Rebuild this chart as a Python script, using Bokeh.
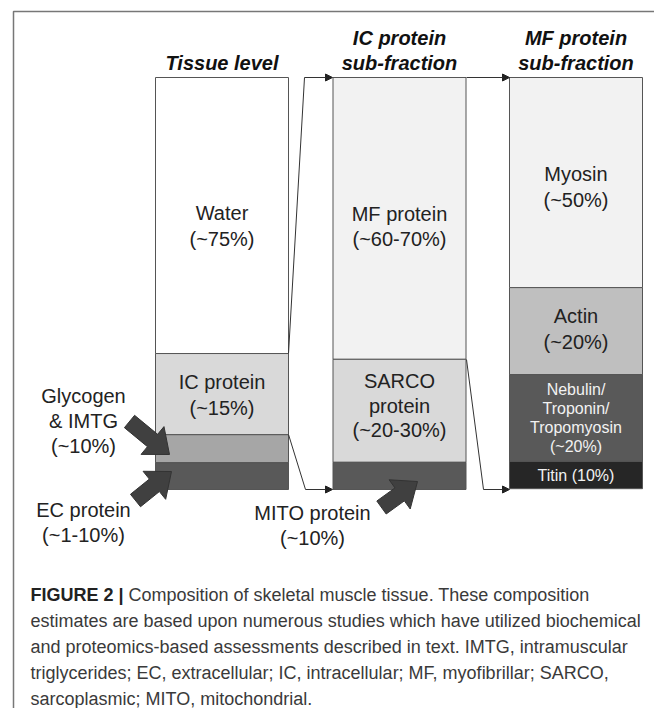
from bokeh.plotting import figure
from bokeh.models import Range1d, ColumnDataSource, Arrow, NormalHead
from bokeh.core.properties import value
from bokeh.embed import file_html
from bokeh.resources import INLINE

# ---------------- data ----------------
tissue_parts = ["Water", "IC protein", "Glycogen & IMTG", "EC protein"]
tissue_share = [67.0, 19.7, 6.8, 6.5]          # share of bar height
tissue_labels = ["Water\n(~75%)", "IC protein\n(~15%)", "Glycogen\n& IMTG\n(~10%)", "EC protein\n(~1-10%)"]
tissue_colors = ["#ffffff", "#d9d9d9", "#a6a6a6", "#595959"]

ic_parts = ["MF protein", "SARCO protein", "MITO protein"]
ic_share = [68.4, 25.0, 6.6]
ic_labels = ["MF protein\n(~60-70%)", "SARCO\nprotein\n(~20-30%)", "MITO protein\n(~10%)"]
ic_colors = ["#f2f2f2", "#d9d9d9", "#595959"]

mf_parts = ["Myosin", "Actin", "Nebulin/Troponin/Tropomyosin", "Titin"]
mf_share = [51.0, 21.1, 21.1, 6.6]
mf_labels = ["Myosin\n(~50%)", "Actin\n(~20%)", "Nebulin/\nTroponin/\nTropomyosin\n(~20%)", "Titin (10%)"]
mf_colors = ["#f2f2f2", "#bfbfbf", "#595959", "#262626"]

headers = ["Tissue level", "IC protein\nsub-fraction", "MF protein\nsub-fraction"]

caption_bold = "FIGURE 2 |"
caption_lines = [
    "Composition of skeletal muscle tissue. These composition",
    "estimates are based upon numerous studies which have utilized biochemical",
    "and proteomics-based assessments described in text. IMTG, intramuscular",
    "triglycerides; EC, extracellular; IC, intracellular; MF, myofibrillar; SARCO,",
    "sarcoplasmic; MITO, mitochondrial.",
]

# ---------------- layout ----------------
W, H = 654, 708
BAR_TOP, BAR_BOT = 77.0, 489.0           # pixel rows of bar top / bottom
UNIT = (BAR_BOT - BAR_TOP) / 100.0       # px per percent


def Y(py):
    return (BAR_BOT - py) / UNIT


BAR_X = [221.5, 399.0, 575.5]
BAR_W = 133
FONT = "Liberation Sans"
LABEL_SIZE = 20
LINE_GAP = 25.5
# small vertical nudges (px) of in-bar labels from segment middles
NUDGE = [[10.5, 1.0], [8.0, -5.0], [4.5, -2.0, 0.0, 0.0]]

p = figure(width=W, height=H, x_range=Range1d(0, W), y_range=Range1d(Y(H), Y(0)),
           output_backend="svg", toolbar_location=None, x_axis_type=None, y_axis_type=None,
           min_border=0, outline_line_color=None, background_fill_color="white",
           border_fill_color="white")
p.grid.visible = False

# frame lines (top and left)
p.line([13, 13, 680], [Y(730), Y(11), Y(11)], line_color="#777777", line_width=1.5)


def text_lines(xs, ys, labels, size, color="#222222", style="normal", gap=LINE_GAP, align="center"):
    tx, ty, tt = [], [], []
    for x, y, lab in zip(xs, ys, labels):
        lines = lab.split("\n")
        n = len(lines)
        for i, ln in enumerate(lines):
            tx.append(x)
            ty.append(y - ((i - (n - 1) / 2.0) * gap) / UNIT)
            tt.append(ln)
    p.text(x=tx, y=ty, text=tt, text_font=value(FONT), text_font_size=value(f"{size}px"),
           text_color=color, text_font_style=style, text_align=align, text_baseline="middle")


def stack(share):
    tops, bots = [], []
    cur = 100.0
    for s in share:
        tops.append(cur)
        cur -= s
        bots.append(cur)
    return tops, bots


bars = [(tissue_share, tissue_colors), (ic_share, ic_colors), (mf_share, mf_colors)]
mids = []
for k, (bx, (share, cols)) in enumerate(zip(BAR_X, bars)):
    tops, bots = stack(share)
    src = ColumnDataSource(dict(x=[bx] * len(share), top=tops, bottom=bots, color=cols))
    p.vbar(x="x", width=BAR_W, top="top", bottom="bottom", fill_color="color",
           line_color="#555555", line_width=1, source=src)
    m = [(t + b) / 2 for t, b in zip(tops, bots)]
    mids.append([v - d / UNIT for v, d in zip(m, NUDGE[k] + [0] * (len(m) - len(NUDGE[k])))])

# labels inside bars
text_lines([BAR_X[0]] * 2, mids[0][:2], tissue_labels[:2], LABEL_SIZE)
text_lines([BAR_X[1]] * 2, mids[1][:2], ic_labels[:2], LABEL_SIZE, gap=24.5)
text_lines([BAR_X[2]] * 2, mids[2][:2], mf_labels[:2], LABEL_SIZE)
text_lines([BAR_X[2]] * 2, mids[2][2:], mf_labels[2:], 16, color="#f2f2f2", gap=19.0)

# labels outside bars
text_lines([83], [Y(420)], [tissue_labels[2]], LABEL_SIZE, gap=25)
text_lines([83], [Y(522)], [tissue_labels[3]], LABEL_SIZE)
text_lines([312], [Y(525)], [ic_labels[2]], LABEL_SIZE)

# headers
text_lines([BAR_X[0]], [Y(62)], [headers[0]], 20, color="#111111", style="bold italic")
text_lines(BAR_X[1:], [Y(49.5), Y(49.5)], headers[1:], 20, color="#111111", style="bold italic", gap=25)

# connectors
conns = [
    [(288, 353), (304, 77), (332, 77)],
    [(288, 434), (305, 489), (332, 489)],
    [(466, 77), (509, 77)],
    [(466, 359), (483, 489), (509, 489)],
]
for pts in conns:
    if len(pts) > 2:
        p.line([q[0] for q in pts[:-1]], [Y(q[1]) for q in pts[:-1]], line_color="#333333", line_width=1)
    (xa, ya), (xb, yb) = pts[-2], pts[-1]
    p.add_layout(Arrow(end=NormalHead(size=7, fill_color="#222222", line_color="#222222", line_width=1),
                       x_start=xa, y_start=Y(ya), x_end=xb, y_end=Y(yb),
                       line_color="#333333", line_width=1))


# block arrows
def block_arrow(x0, y0, x1, y1, sw=8.0, hw=18.0, hl=22.0):
    dx, dy = x1 - x0, y1 - y0
    L = (dx * dx + dy * dy) ** 0.5
    ux, uy = dx / L, dy / L
    nx, ny = -uy, ux
    bx, by = x1 - ux * hl, y1 - uy * hl
    pts = [(x0 + nx * sw, y0 + ny * sw), (bx + nx * sw, by + ny * sw), (bx + nx * hw, by + ny * hw),
           (x1, y1), (bx - nx * hw, by - ny * hw), (bx - nx * sw, by - ny * sw), (x0 - nx * sw, y0 - ny * sw)]
    return [q[0] for q in pts], [Y(q[1]) for q in pts]


arrs = [block_arrow(129, 421, 169, 454), block_arrow(135, 500, 171, 471), block_arrow(381, 507, 417, 481)]
p.patches([a[0] for a in arrs], [a[1] for a in arrs], fill_color="#404040", line_color="#333333", line_width=1)

# caption
CAP_X = 30
CAP_Y0 = 594
CAP_GAP = 26
p.text(x=[CAP_X], y=[Y(CAP_Y0)], text=[caption_bold], text_font=value(FONT), text_font_size=value("18px"),
       text_font_style="bold", text_color="#222222", text_align="left", text_baseline="middle")
cx = [CAP_X + 98] + [CAP_X] * (len(caption_lines) - 1)
cy = [Y(CAP_Y0 + i * CAP_GAP) for i in range(len(caption_lines))]
p.text(x=cx, y=cy, text=caption_lines, text_font=value(FONT), text_font_size=value("18px"),
       text_color="#3a3a3a", text_align="left", text_baseline="middle")

open("out.html", "w").write(file_html(p, INLINE))
